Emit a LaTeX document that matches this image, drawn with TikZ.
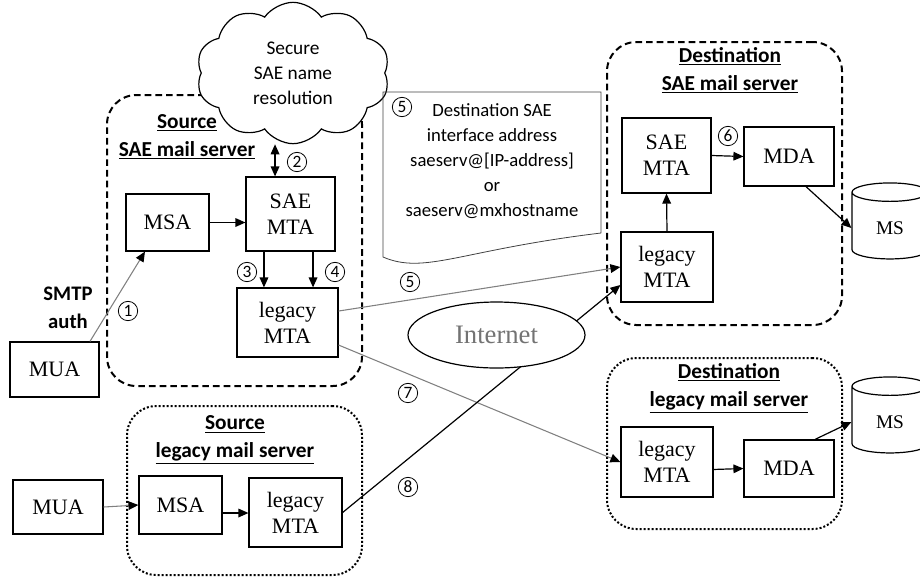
\documentclass[tikz,border=0pt]{standalone}
\usepackage{fontspec}
\setmainfont{Liberation Serif}
\newfontfamily\calibri{Carlito}
\usepackage{tikz}
\usetikzlibrary{arrows.meta}
\usetikzlibrary{shapes.geometric}
\usetikzlibrary{shapes.symbols}
\tikzset{x=0.75pt, y=-0.75pt, % one unit is one pixel of the sketch
    >={Triangle[length=7.5pt,width=6.5pt]},
    box/.style=
    { % Agent boxes (MUA, MSA, MTA, MDA)
        draw, line width=0.9pt, inner sep=1pt, align=center,
        font=\fontsize{16.5}{19.5}\selectfont
    },
    saeframe/.style={draw, line width=1.5pt, dash pattern=on 5pt off 3pt,
        rounded corners=22pt, inner sep=0pt},
    legframe/.style={draw, line width=1.5pt, dash pattern=on 1.5pt off 1.5pt,
        rounded corners=22pt, inner sep=0pt},
    title/.style={align=center, font=\calibri\bfseries\fontsize{16}{21}\selectfont},
    num/.style={circle, draw, line width=0.6pt, minimum size=14.5pt, inner sep=0pt,
        font=\calibri\fontsize{13}{13}\selectfont},
    store/.style={cylinder, shape border rotate=90, aspect=0.5, draw, line width=0.9pt,
        minimum width=57pt, minimum height=57pt, font=\fontsize{14.5}{14.5}\selectfont},
    greyflow/.style={draw=gray, line width=0.8pt,
        -{Triangle[length=7.5pt,width=6.5pt,color=black]}},
    every edge/.style={ % Sets the properties for each connector
        draw, ->, line width=0.9pt
    }
}
\begin{document}
\begin{tikzpicture}
    \useasboundingbox (0,0) rectangle (920,576);
    % server frames
    \node[saeframe, minimum width=191.25pt, minimum height=218.25pt] (srcsae) at (234.5,240.5) {};
    \node[legframe, minimum width=176.25pt, minimum height=126.75pt] (srcleg) at (244.5,490.5) {};
    \node[saeframe, minimum width=176.25pt, minimum height=212.25pt] (dstsae) at (724.5,183.5) {};
    \node[legframe, minimum width=176.25pt, minimum height=128.25pt] (dstleg) at (724.5,443.5) {};
    \node[title] (srcsaeT) at (187,137) {\underline{Source}\\\underline{SAE mail server}};
    \node[title] (srclegT) at (235,440) {\underline{Source}\\\underline{legacy mail server}};
    \node[title] (dstsaeT) at (730,70.5) {\underline{Destination}\\\underline{SAE mail server}};
    \node[title] (dstlegT) at (729,388) {\underline{Destination}\\\underline{legacy mail server}};

    % name resolution cloud
    \node[cloud, cloud puffs=10, cloud puff arc=110, aspect=1.5, draw, line width=0.9pt,
        fill=white, minimum width=145pt, minimum height=106pt, align=center,
        font=\calibri\fontsize{14.5}{18.75}\selectfont] (cloud) at (293,73)
        {Secure\\SAE name\\resolution};

    % source side
    \node[box, minimum width=66.75pt, minimum height=41.25pt] (muaA) at (54.5,369.5) {MUA};
    \node[box, minimum width=62.25pt, minimum height=42.75pt] (msaA) at (167.5,222.5) {MSA};
    \node[box, minimum width=66.75pt, minimum height=55.5pt] (saeA) at (290.5,214) {SAE\\MTA};
    \node[box, minimum width=75.75pt, minimum height=51.75pt] (legA) at (287.5,322.5) {legacy\\MTA};
    \node[box, minimum width=67.5pt, minimum height=40.5pt] (muaB) at (58,507) {MUA};
    \node[box, minimum width=62.25pt, minimum height=43.5pt] (msaB) at (180.5,505) {MSA};
    \node[box, minimum width=69.75pt, minimum height=51.75pt] (legB) at (295.5,512.5) {legacy\\MTA};
    \node[title, font=\calibri\bfseries\fontsize{15.5}{21}\selectfont] (smtp) at (68,308) {SMTP\\auth};

    % destination side
    \node[box, minimum width=66.75pt, minimum height=56.25pt] (dsaeA) at (666.5,155.5) {SAE\\MTA};
    \node[box, minimum width=67.5pt, minimum height=44.25pt] (dmdaA) at (789,156.5) {MDA};
    \node[box, minimum width=69pt, minimum height=52.5pt] (dlegA) at (667,267) {legacy\\MTA};
    \node[store] (msA) at (890,228) {MS};
    \node[box, minimum width=69pt, minimum height=52.5pt] (dlegB) at (667,462) {legacy\\MTA};
    \node[box, minimum width=67.5pt, minimum height=42.75pt] (dmdaB) at (789,468.5) {MDA};
    \node[store] (msB) at (890,422) {MS};

    % address note
    \draw[line width=0.6pt, black!75] (601,233) -- (601,92) -- (383,92) -- (383,257)
        .. controls (425,275) and (460,250) .. (601,233);
    \node[align=center, font=\calibri\fontsize{14}{18.75}\selectfont] (addr) at (492,161.5)
        {Destination SAE\\interface address\\saeserv@[IP-address]\\or\\saeserv@mxhostname};

    \draw
    ([xshift=26.6pt]muaA.north) edge[greyflow] ([xshift=-16.9pt]msaA.south)
    (msaA.east) edge (msaA.east -| saeA.west)
    ([xshift=-11.6pt]saeA.north) edge[<->] ([xshift=-11.6pt]saeA.north |- cloud.south)
    ([xshift=-19.9pt]saeA.south) edge ([xshift=-19.9pt]saeA.south |- legA.north)
    ([xshift=16.9pt]saeA.south) edge ([xshift=16.9pt]saeA.south |- legA.north)
    ([yshift=8.6pt]legA.east) edge[greyflow] (dlegA.west)
    ([yshift=-16.9pt]legA.east) edge[greyflow] (dlegB.west)
    (legB.east) edge ([yshift=-13.5pt]dlegA.west)
    (muaB.east) edge[greyflow] (msaB.west)
    ([yshift=-6pt]msaB.east) edge ([yshift=-6pt]msaB.east -| legB.west)
    (dlegA.north) edge (dsaeA.south)
    (dsaeA.east) edge (dmdaA.west)
    ([xshift=12.75pt]dmdaA.south) edge (msA.west)
    ([yshift=-5.6pt]dlegB.east) edge (dmdaB.west)
    ([xshift=19.5pt]dmdaB.north) edge (msB.west)
    ;

    % the Internet sits on top of the path of (8)
    \node[ellipse, draw, line width=0.9pt, fill=white, minimum width=132.75pt,
        minimum height=49.5pt, text=black!55, font=\fontsize{20}{20}\selectfont]
        (inet) at (496.5,335) {Internet};

    % step numbers
    \node[num] (n1) at (128,311) {1};
    \node[num] (n2) at (297,162) {2};
    \node[num] (n3) at (247,272) {3};
    \node[num] (n4) at (335,272) {4};
    \node[num] (n5a) at (402,107) {5};
    \node[num] (n5b) at (410,282) {5};
    \node[num] (n6) at (728,136) {6};
    \node[num] (n7) at (408,393) {7};
    \node[num] (n8) at (408,487) {8};
\end{tikzpicture}
\end{document}
